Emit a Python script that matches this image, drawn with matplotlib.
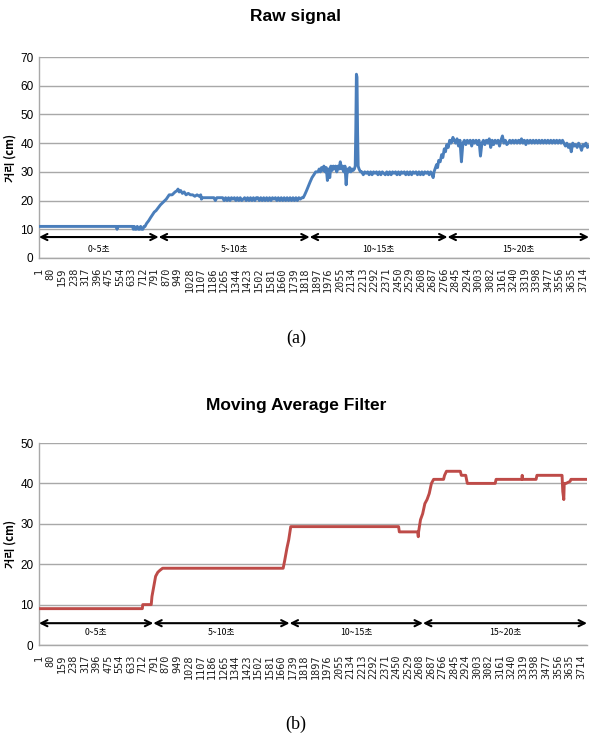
import numpy as np
import matplotlib
matplotlib.use('Agg')
import matplotlib.pyplot as plt

# ---------------- data ----------------
N_POINTS = 3756
tick_labels = [1, 80, 159, 238, 317, 396, 475, 554, 633, 712, 791, 870, 949, 1028,
               1107, 1186, 1265, 1344, 1423, 1502, 1581, 1660, 1739, 1818, 1897, 1976,
               2055, 2134, 2213, 2292, 2371, 2450, 2529, 2608, 2687, 2766, 2845, 2924,
               3003, 3082, 3161, 3240, 3319, 3398, 3477, 3556, 3635, 3714]

# Raw signal: explicit vertices (sample index, distance cm)
raw_x1 = [1, 530, 534, 538, 640, 645, 652, 658, 665, 672, 680, 688, 695, 702, 710,
          718, 725, 735, 750, 762, 775, 788, 800, 815, 830, 850, 870, 890, 910, 930,
          945, 950, 958, 968, 980, 992, 1005, 1020, 1035, 1050, 1065, 1080, 1095,
          1105, 1110, 1115, 1125]
raw_y1 = [11, 11, 10, 11, 11, 10, 11, 10, 10, 11, 10, 10, 11, 10, 10,
          11, 11, 12, 13, 14, 15, 16, 16.5, 17.5, 18.5, 19.5, 20.5, 22, 22, 23,
          23.5, 24, 23, 23.5, 22.5, 23, 22, 22.5, 22, 22, 21.5, 22, 21.5,
          22, 20.5, 21, 21]
# 5~10 s plateau, samples every 10 from 1135
raw_y2 = [21, 21, 21, 21, 21, 21, 21, 20, 21, 21, 21, 21, 21,
          20, 21, 20, 21, 20, 21, 20.5, 21, 20, 21,
          20, 21, 20, 20.5, 21, 20, 21, 20, 21, 20,
          21, 20, 21, 21, 20, 21, 20, 21, 20, 21,
          20, 21, 20, 21, 20.5, 21, 20, 21, 20, 21,
          20, 21, 20, 21, 20, 21, 20, 21, 20, 21,
          20, 21, 20.5, 21]
raw_x3 = [1805, 1815, 1828, 1840, 1852, 1865, 1878, 1890, 1898]
raw_y3 = [21, 22, 23.5, 25, 26.5, 28, 29, 30, 30]
# 10~15 s first plateau, samples every 8 from 1906
raw_y4 = [30, 31, 30, 31.5, 30.5, 32, 30, 31.5, 27, 31, 28, 32, 30.5, 32, 31, 32,
          30, 32, 31, 33.5, 31, 32, 30, 32, 25.5, 31, 30, 31.5, 30, 31, 30.5, 31]
raw_x5 = [2160, 2164, 2168, 2172, 2176, 2180, 2186, 2196]
raw_y5 = [32, 45, 64, 63, 44, 32, 31, 30]
# second plateau, samples every 10 from 2205
raw_y6 = [30, 29, 30, 29.5, 30, 29, 30, 29, 30, 29.5,
          30, 29, 30, 29, 30, 29.5, 29, 30, 29, 30,
          29, 30, 29.5, 30, 29, 30, 29, 30, 29.5, 30,
          29, 30, 29, 30, 29, 30, 29.5, 30, 29, 30,
          29, 30, 29, 30, 29.5, 30, 29, 30, 29]
raw_x7 = [2692, 2698, 2705, 2715, 2722, 2730, 2740, 2750, 2758, 2768, 2776, 2785,
          2795, 2805, 2815, 2827]
raw_y7 = [28, 30, 31, 32.5, 31.5, 34, 33.5, 36, 35, 38, 37, 39.5, 38.5, 41, 40, 42]
# 15~20 s plateau, samples every 10 from 2835
raw_y8 = [41, 40, 41.5, 39, 41, 33.5, 40, 41, 39.5, 41, 40, 41, 39, 41, 40, 41,
          39.5, 41, 35.5, 40, 41, 39.5, 41, 40, 41.5, 38.5, 41, 39.5, 41, 40, 41,
          39, 41, 42.5, 40, 41, 39.5, 40, 41, 40, 41, 40, 41, 40, 41, 40, 41.5,
          40, 41, 39.5, 41, 40, 41, 40, 41, 40, 41, 40, 41, 40, 41, 40, 41, 40,
          41, 40, 41, 40, 41, 40, 41, 40, 41, 40, 41]
# tail, samples every 10 from 3585
raw_y9 = [40, 39, 40, 38.5, 39.5, 37, 40, 39, 39.5, 38.5, 40, 39, 37.5, 39.5,
          39, 40, 38.5, 39]

# Moving average filter: step vertices
ma_x = [1, 709, 712, 770, 775, 790, 800, 815, 830, 848, 1674, 1685, 1700, 1712,
        1726, 2465, 2470, 2595, 2600, 2602, 2615, 2630, 2645, 2660, 2675, 2690,
        2705, 2773, 2780, 2793, 2888, 2895, 2925, 2936, 3127, 3133, 3310, 3312,
        3314, 3407, 3413, 3585, 3590, 3597, 3600, 3612, 3640, 3646, 3756]
ma_y = [9, 9, 10, 10, 12, 15, 17, 18, 18.5, 19, 19, 21, 24, 26, 29.3, 29.3, 28,
        28, 26.8, 28, 31, 32.5, 35, 36, 37.5, 40, 41, 41, 42, 43, 43, 42, 42, 40,
        40, 41, 41, 42, 41, 41, 42, 42, 38, 36, 40, 40, 40.5, 41, 41]

segment_labels = ["0~5초", "5~10초", "10~15초", "15~20초"]
raw_bounds = [1, 818, 1849, 2790, N_POINTS]
ma_bounds = [1, 784, 1718, 2632, N_POINTS]


def seq(start, step, vals):
    return list(start + step * np.arange(len(vals)))


raw_x = (raw_x1 + seq(1135, 10, raw_y2) + raw_x3 + seq(1906, 8, raw_y4) + raw_x5
         + seq(2205, 10, raw_y6) + raw_x7 + seq(2835, 10, raw_y8) + seq(3585, 10, raw_y9))
raw_y = raw_y1 + raw_y2 + raw_y3 + raw_y4 + raw_y5 + raw_y6 + raw_y7 + raw_y8 + raw_y9

# ---------------- figure ----------------
W, H = 590, 737
fig = plt.figure(figsize=(W / 100, H / 100), dpi=100)

SANS = ['Liberation Sans', 'DejaVu Sans']
KR = ['Noto Sans CJK KR', 'DejaVu Sans']
GRID = '#A8A8A8'


def make_axes(rect, x, y, color, ymax, title, bounds, arrow_y, label_y, caption, cap_y, title_y):
    l, t, r, b = rect
    ax = fig.add_axes([l / W, 1 - b / H, (r - l) / W, (b - t) / H])
    ax.plot(x, y, color=color, lw=2.1, solid_joinstyle='round', zorder=3)
    ax.set_xlim(1, N_POINTS)
    ax.set_ylim(0, ymax)
    ax.set_yticks(np.arange(0, ymax + 1, 10))
    ax.yaxis.grid(True, color=GRID, lw=1.0)
    ax.set_axisbelow(True)
    for s in ['top', 'right']:
        ax.spines[s].set_visible(False)
    for s in ['left', 'bottom']:
        ax.spines[s].set_color(GRID)
        ax.spines[s].set_linewidth(1.0)
    ax.set_xticks(tick_labels)
    ax.set_xticklabels([str(v) for v in tick_labels], rotation=90,
                       fontfamily='DejaVu Sans Mono', fontsize=7.4)
    ax.tick_params(axis='x', length=0, pad=7, colors='#222222')
    ax.tick_params(axis='y', length=0, pad=4, labelsize=8.5)
    for lab in ax.get_yticklabels():
        lab.set_family(SANS)
    ax.set_ylabel('거리 (cm)', fontfamily=KR, fontweight='bold', fontsize=8)
    ax.yaxis.set_label_coords((17 - l) / (r - l), 0.5)
    for i in range(4):
        a, bnd = bounds[i], bounds[i + 1]
        ax.annotate('', xy=(bnd, arrow_y), xytext=(a, arrow_y),
                    arrowprops=dict(arrowstyle='<->', lw=1.5, color='black',
                                    mutation_scale=11, shrinkA=0, shrinkB=0),
                    annotation_clip=False)
        ax.text((a + bnd) / 2, label_y, segment_labels[i], ha='center', va='center',
                fontfamily=KR, fontsize=6.3)
    fig.text(296 / W, 1 - title_y / H, title, ha='center', va='center',
             fontfamily=SANS, fontweight='bold', fontsize=12.5)
    fig.text(296 / W, 1 - cap_y / H, caption, ha='center', va='center',
             fontfamily=['Liberation Serif', 'DejaVu Serif'], fontsize=13)
    return ax


make_axes((39, 57, 589, 258), raw_x, raw_y, '#4A7EBB', 70, 'Raw signal',
          raw_bounds, 7.3, 3.1, '(a)', 338, 17)
make_axes((39, 443, 587, 645), ma_x, ma_y, '#BE4B48', 50, 'Moving Average Filter',
          ma_bounds, 5.4, 3.0, '(b)', 724, 405)

fig.savefig('out.png', dpi=100)
